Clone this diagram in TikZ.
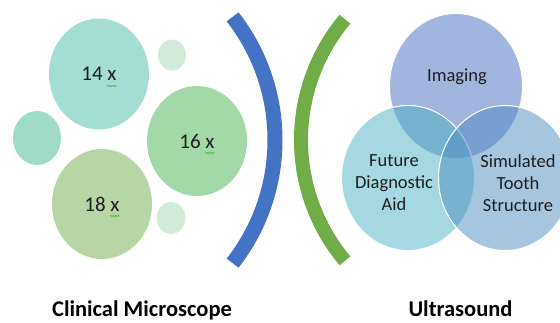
\documentclass[tikz,border=0pt]{standalone}
\usepackage{fontspec}
\setmainfont{Carlito}
\usetikzlibrary{shapes.geometric,decorations.pathmorphing}

\definecolor{bubbleteal}{RGB}{164,221,211}
\definecolor{bubblegreen}{RGB}{163,217,169}
\definecolor{bubbleolive}{RGB}{184,213,165}
\definecolor{bubbleside}{RGB}{160,219,200}
\definecolor{bubblepale}{RGB}{210,235,216}
\definecolor{arcblue}{RGB}{68,114,196}
\definecolor{arcgreen}{RGB}{112,173,71}
\definecolor{vennimg}{RGB}{69,107,191}
\definecolor{vennaid}{RGB}{75,177,193}
\definecolor{venntooth}{RGB}{77,141,193}
\definecolor{spellgreen}{RGB}{80,180,80}
\definecolor{inktext}{RGB}{30,30,30}

\tikzset{
  bubble/.style={ellipse, inner sep=0pt, text=inktext, font=\fontsize{21}{25}\selectfont},
  vennset/.style={ellipse, inner sep=0pt, draw=white, line width=1pt, fill opacity=0.5,
    minimum width=133pt, minimum height=145pt},
  venntext/.style={align=center, text=inktext, font=\fontsize{18.5}{22}\selectfont},
  heading/.style={anchor=base, text=black, font=\fontsize{22.5}{27}\selectfont\bfseries},
  squiggle/.style={draw=spellgreen, line width=0.6pt, decorate,
    decoration={snake, amplitude=0.8pt, segment length=2.5pt}}
}

\begin{document}
\begin{tikzpicture}[x=1pt,y=-1pt]
\useasboundingbox (0,0) rectangle (560,322);

% microscope bubbles
\node[bubble, fill=bubbleteal, minimum width=100pt, minimum height=111pt] (mag14) at (99,74) {14 x};
\node[bubble, fill=bubblegreen, minimum width=100pt, minimum height=110pt] (mag16) at (197,141) {16 x};
\node[bubble, fill=bubbleolive, minimum width=100pt, minimum height=110pt] (mag18) at (102,204) {18 x};
\node[bubble, fill=bubbleside, minimum width=48pt, minimum height=54pt] (sideleft) at (37,138) {};
\node[bubble, fill=bubblepale, minimum width=28pt, minimum height=31pt] (paletop) at (172,55) {};
\node[bubble, fill=bubblepale, minimum width=29pt, minimum height=32pt] (palebottom) at (171,218) {};

\foreach \n in {mag14,mag16,mag18}
  \draw[squiggle] ([shift={(8,12)}]\n.center) -- ++(10,0);

% brackets
\draw[arcblue, line width=15pt] (75,140) ++(-38:200) arc[start angle=-38, end angle=38, radius=200];
\draw[arcgreen, line width=14pt] (489,140) ++(140:188) arc[start angle=140, end angle=220, radius=188];

% ultrasound venn
\node[vennset, fill=vennimg] (imaging) at (456,86) {};
\node[vennset, fill=vennaid] (aid) at (408,178) {};
\node[vennset, fill=venntooth] (tooth) at (505,178) {};

\node[venntext, anchor=base] (imgtext) at (457,81) {Imaging};
\node[venntext] (aidtext) at (394,183) {Future\\Diagnostic\\Aid};
\node[venntext] (toothtext) at (518,183) {Simulated\\Tooth\\Structure};

% titles
\node[heading] (microtitle) at (142,316.5) {Clinical Microscope};
\node[heading] (ultratitle) at (460.5,316.5) {Ultrasound};
\end{tikzpicture}
\end{document}
